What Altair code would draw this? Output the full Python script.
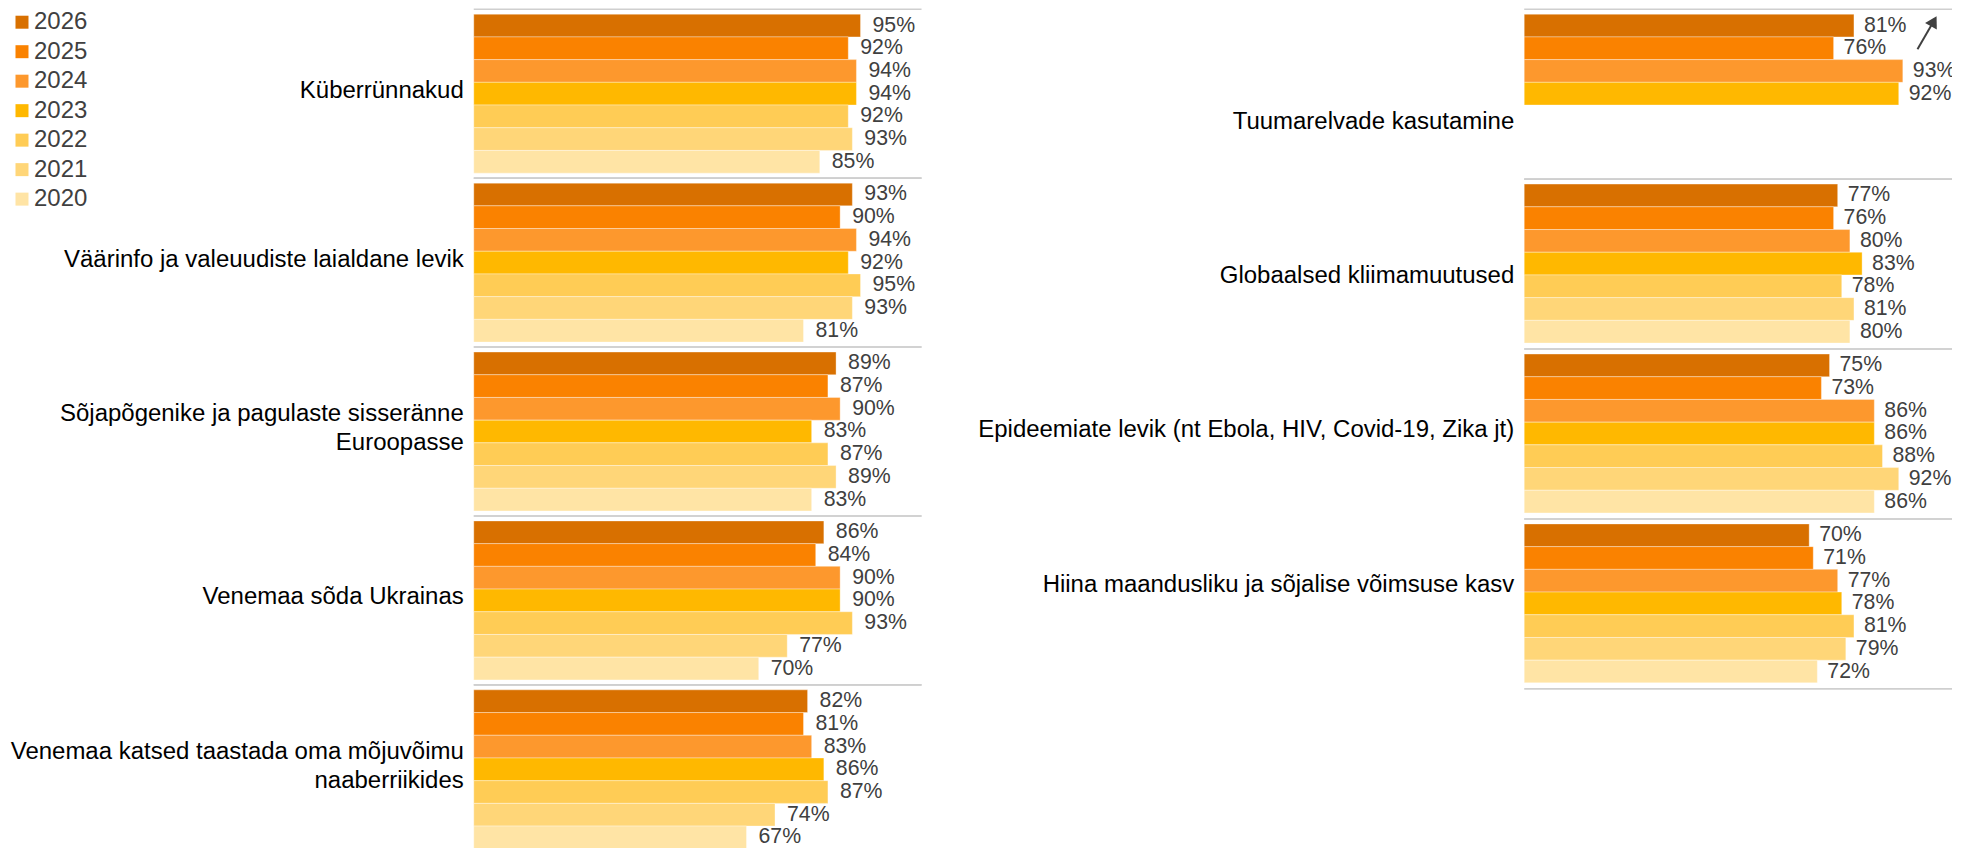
import altair as alt
import pandas as pd

years = ["2026", "2025", "2024", "2023", "2022", "2021", "2020"]
colors = ["#D87000", "#FA8200", "#FD982D", "#FFB800", "#FFCC55", "#FFD678", "#FFE4A5"]

left_categories = [
    "Küberrünnakud",
    "Väärinfo ja valeuudiste laialdane levik",
    "Sõjapõgenike ja pagulaste sisseränne\nEuroopasse",
    "Venemaa sõda Ukrainas",
    "Venemaa katsed taastada oma mõjuvõimu\nnaaberriikides",
]
left_values = [
    [95, 92, 94, 94, 92, 93, 85],
    [93, 90, 94, 92, 95, 93, 81],
    [89, 87, 90, 83, 87, 89, 83],
    [86, 84, 90, 90, 93, 77, 70],
    [82, 81, 83, 86, 87, 74, 67],
]

right_categories = [
    "Tuumarelvade kasutamine",
    "Globaalsed kliimamuutused",
    "Epideemiate levik (nt Ebola, HIV, Covid-19, Zika jt)",
    "Hiina maandusliku ja sõjalise võimsuse kasv",
]
right_values = [
    [81, 76, 93, 92, None, None, None],
    [77, 76, 80, 83, 78, 81, 80],
    [75, 73, 86, 86, 88, 92, 86],
    [70, 71, 77, 78, 81, 79, 72],
]

FONT = "Liberation Sans, Arial, sans-serif"
PX = 4.073  # pixels per percentage point
LINE_H = 29


def make_df(categories, values):
    rows = []
    for cat, vals in zip(categories, values):
        for yr, v in zip(years, vals):
            if v is not None:
                rows.append({"category": cat, "year": yr, "value": v, "label": f"{v}%"})
    return pd.DataFrame(rows)


def panel(categories, values, width, height, zero_px, label_gap, value_gap, label_dy,
          show_legend, clip, arrow=False):
    df = make_df(categories, values)
    cats = pd.DataFrame({"category": categories})
    xmin = -zero_px / PX
    xmax = (width - zero_px) / PX
    xs = alt.Scale(domain=[xmin, xmax], nice=False, zero=False)
    ys = alt.Scale(domain=categories, paddingInner=0, paddingOuter=0)
    yo = alt.Scale(domain=years, paddingInner=0, paddingOuter=0.22)

    if show_legend:
        legend = alt.Legend(
            title=None, orient="none", legendX=2, legendY=1, padding=0,
            symbolType="square", symbolSize=169, symbolStrokeWidth=0,
            labelFontSize=24, labelFont=FONT, labelColor="#404040",
            rowPadding=5.5, labelOffset=0,
        )
    else:
        legend = None

    base = alt.Chart(df)
    bars = base.mark_bar(stroke="#ffffff", strokeOpacity=0.35, strokeWidth=1).encode(
        x=alt.X("value:Q", stack=None, scale=xs, axis=None),
        y=alt.Y("category:N", scale=ys, axis=None),
        yOffset=alt.YOffset("year:N", scale=yo),
        color=alt.Color("year:N", scale=alt.Scale(domain=years, range=colors), legend=legend),
    )
    vlabels = base.mark_text(
        align="left", baseline="middle", dx=value_gap, fontSize=21.3, font=FONT,
        color="#404040", clip=clip,
    ).encode(
        x=alt.X("value:Q", stack=None, scale=xs, axis=None),
        y=alt.Y("category:N", scale=ys, axis=None),
        yOffset=alt.YOffset("year:N", scale=yo),
        text="label:N",
    )
    cbase = alt.Chart(cats).transform_calculate(zero="0", end=str(xmax))
    sep_top = cbase.mark_rule(color="#cfcfcf", strokeWidth=1.6).encode(
        y=alt.Y("category:N", scale=ys, axis=None, bandPosition=0),
        x=alt.X("zero:Q", scale=xs, axis=None),
        x2="end:Q",
    )
    sep_bot = cbase.mark_rule(color="#cfcfcf", strokeWidth=1.6).encode(
        y=alt.Y("category:N", scale=ys, axis=None, bandPosition=1),
        x=alt.X("zero:Q", scale=xs, axis=None),
        x2="end:Q",
    )
    layers = [sep_top, sep_bot, bars, vlabels]
    for cat in categories:
        n_lines = cat.count("\n") + 1
        dy = label_dy.get(cat, -3) - (n_lines - 1) * LINE_H / 2
        layers.append(
            cbase.transform_filter(alt.datum.category == cat).mark_text(
                align="right", baseline="middle", dx=-label_gap, dy=dy,
                fontSize=24, font=FONT, color="#000000", lineBreak="\n", lineHeight=LINE_H,
            ).encode(
                x=alt.X("zero:Q", scale=xs, axis=None),
                y=alt.Y("category:N", scale=ys, axis=None),
                text="category:N",
            )
        )
    if arrow:
        adf = alt.Chart(pd.DataFrame({"a": [0]})).transform_calculate(
            x0="96.6", x1="100.3", xh="100.6"
        )
        layers.append(
            adf.mark_rule(color="#404040", strokeWidth=2).encode(
                x=alt.X("x0:Q", scale=xs, axis=None), x2="x1:Q",
                y=alt.value(40), y2=alt.value(14),
            )
        )
        layers.append(
            adf.mark_point(
                shape="triangle-up", angle=29, size=180, filled=True,
                color="#404040", opacity=1,
            ).encode(x=alt.X("xh:Q", scale=xs, axis=None), y=alt.value(12))
        )
    return alt.layer(*layers).properties(width=width, height=height)


left = panel(left_categories, left_values, 914, 845, 466, 10, 12, {}, True, False)

right_dy = {
    "Tuumarelvade kasutamine": 28,
    "Globaalsed kliimamuutused": 12,
    "Epideemiate levik (nt Ebola, HIV, Covid-19, Zika jt)": -4,
    "Hiina maandusliku ja sõjalise võimsuse kasv": -19,
}
right = panel(right_categories, right_values, 1027, 680, 599, 10, 10, right_dy, False, True, arrow=True)

chart = alt.hconcat(left, right, spacing=4, bounds="flush").resolve_scale(
    color="independent"
).properties(padding=0).configure_view(stroke=None)

chart.save("out.html", embed_options={"renderer": "svg", "actions": False})
